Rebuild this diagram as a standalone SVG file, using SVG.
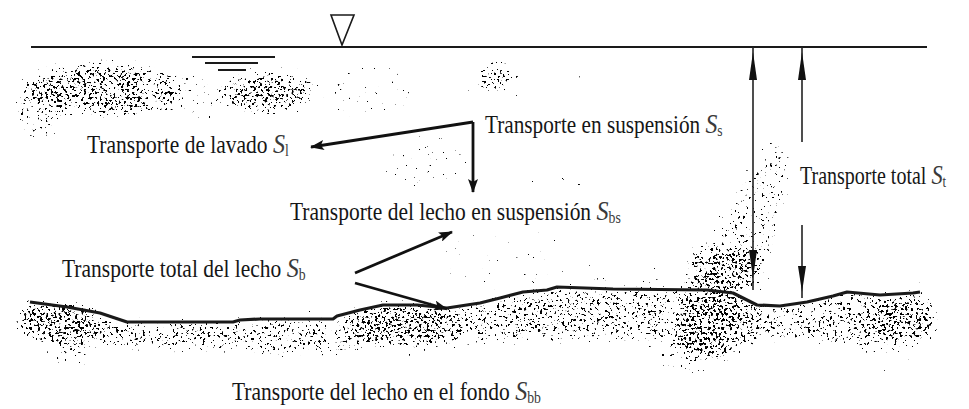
<svg xmlns="http://www.w3.org/2000/svg" width="969" height="409" viewBox="0 0 969 409">
  <style>
    .lbl { font-family: "Liberation Serif", "Times New Roman", serif; font-size: 25px; fill: #161616; }
    .sym { font-style: italic; font-size: 28px; fill: #3a3a3a; }
    .sub { font-style: normal; font-size: 16px; fill: #3a3a3a; }
    .ln { stroke: #1a1a1a; fill: none; }
    .arrow { stroke: #111; stroke-width: 2.8; fill: none; marker-end: url(#head); }
    .dim { stroke: #222; stroke-width: 1.6; fill: none; }
    .dimhead { fill: #111; }
  </style>
  <defs>
    <marker id="head" viewBox="0 0 14 10" refX="13" refY="5" markerWidth="14" markerHeight="10" markerUnits="userSpaceOnUse" orient="auto">
      <path d="M0,0 L14,5 L0,10 L3,5 z" fill="#111"/>
    </marker>
    <!-- speckle generator: fine noise thresholded by the blurred, clumped density of the source shapes -->
    <filter id="stipple" filterUnits="userSpaceOnUse" x="0" y="0" width="969" height="409" color-interpolation-filters="sRGB">
      <feTurbulence type="fractalNoise" baseFrequency="0.37" numOctaves="2" seed="7" result="noise"/>
      <feColorMatrix in="noise" type="matrix" values="0 0 0 0 0  0 0 0 0 0  0 0 0 0 0  1 0 0 0 0" result="na"/>
      <feTurbulence type="fractalNoise" baseFrequency="0.05" numOctaves="2" seed="3" result="low"/>
      <feColorMatrix in="low" type="matrix" values="0 0 0 0 0  0 0 0 0 0  0 0 0 0 0  1.6 0 0 0 0.3" result="la"/>
      <feGaussianBlur in="SourceAlpha" stdDeviation="6" result="dens"/>
      <feComponentTransfer in="dens" result="densg">
        <feFuncA type="gamma" amplitude="1" exponent="0.6" offset="0"/>
      </feComponentTransfer>
      <feComposite in="densg" in2="la" operator="arithmetic" k1="1" k2="0" k3="0" k4="0" result="mod"/>
      <feComposite in="na" in2="mod" operator="arithmetic" k1="0" k2="25" k3="9" k4="-22.5"/>
    </filter>
  </defs>

  <rect width="969" height="409" fill="#fff"/>

  <!-- sediment grains -->
  <g id="sediment" filter="url(#stipple)" fill="#000">
    <!-- wash load near the surface -->
    <ellipse cx="105" cy="90" rx="80" ry="26" fill-opacity=".9"/>
    <ellipse cx="40" cy="108" rx="24" ry="32" fill-opacity=".5"/>
    <ellipse cx="190" cy="95" rx="35" ry="22" fill-opacity=".3"/>
    <ellipse cx="265" cy="92" rx="45" ry="21" fill-opacity=".9"/>
    <ellipse cx="355" cy="92" rx="60" ry="28" fill-opacity=".23"/>
    <ellipse cx="497" cy="77" rx="20" ry="16" fill-opacity=".7"/>
    <ellipse cx="565" cy="80" rx="40" ry="9" fill-opacity=".2"/>
    <!-- suspended load -->
    <ellipse cx="425" cy="160" rx="45" ry="32" fill-opacity=".23"/>
    <ellipse cx="545" cy="183" rx="60" ry="4" fill-opacity=".4"/>
    <ellipse cx="500" cy="255" rx="70" ry="35" fill-opacity=".18"/>
    <ellipse cx="620" cy="278" rx="50" ry="12" fill-opacity=".22"/>
    <!-- plume rising beside the dimension line -->
    <path d="M684,292 L692,258 L724,222 L746,178 L772,138 L790,142 L786,200 L770,255 L762,295 z" fill-opacity=".5"/>
    <ellipse cx="722" cy="268" rx="36" ry="24" fill-opacity="1"/>
    <!-- bed layer -->
    <path d="M22,300 L67,307 L100,313 L127,322 L233,322 L260,319 L333,319 L360,310 L383,305 L447,308 L480,303 L523,292 L557,287 L707,290 L733,293 L757,305 L780,306 L807,302 L847,292 L880,295 L935,292 L935,338 L880,345 L780,340 L700,345 L600,338 L500,342 L450,345 L330,350 L250,350 L130,348 L60,345 L20,335 z" fill-opacity=".7"/>
    <ellipse cx="60" cy="322" rx="42" ry="20" fill-opacity="1"/>
    <ellipse cx="405" cy="325" rx="50" ry="22" fill-opacity="1"/>
    <ellipse cx="712" cy="325" rx="42" ry="32" fill-opacity="1"/>
    <ellipse cx="900" cy="322" rx="30" ry="20" fill-opacity="1"/>
    <ellipse cx="70" cy="355" rx="25" ry="15" fill-opacity=".35"/>
    <ellipse cx="690" cy="358" rx="35" ry="18" fill-opacity=".35"/>
    <ellipse cx="300" cy="355" rx="40" ry="10" fill-opacity=".25"/>
    <ellipse cx="890" cy="350" rx="40" ry="12" fill-opacity=".25"/>
  </g>

  <!-- free surface and water-level mark -->
  <g id="surface">
    <line class="ln" x1="31" y1="47" x2="927" y2="47" stroke-width="2.2"/>
    <polygon points="331,15 354,15 342,45" fill="#fff" stroke="#1a1a1a" stroke-width="1.6"/>
    <line class="ln" x1="192" y1="57" x2="275" y2="57" stroke-width="2"/>
    <line class="ln" x1="205" y1="63" x2="258" y2="63" stroke-width="2"/>
    <line class="ln" x1="218" y1="70" x2="246" y2="70" stroke-width="2"/>
  </g>

  <!-- channel bed -->
  <g id="bed">
    <path class="ln" stroke-width="3.2" stroke-linejoin="round" d="M30,302 L67,307 L100,313 L127,322 L233,322 L240,320 L260,319 L333,319 L337,316 L360,310 L383,305 L417,305 L447,308 L480,303 L500,298 L523,292 L547,290 L557,287 L613,289 L707,290 L733,293 L757,305 L780,306 L807,302 L833,296 L847,292 L880,295 L913,293 L920,292"/>
  </g>

  <!-- labels (narrow face: each line is squeezed horizontally) -->
  <g id="lavado">
    <text class="lbl" transform="translate(87,153) scale(0.86,1)">Transporte de lavado <tspan class="sym">S</tspan><tspan class="sub" dy="3">l</tspan></text>
  </g>
  <g id="suspension">
    <text class="lbl" transform="translate(485,133) scale(0.85,1)">Transporte en suspensión <tspan class="sym">S</tspan><tspan class="sub" dy="3">s</tspan></text>
  </g>
  <g id="lecho-suspension">
    <text class="lbl" transform="translate(290,220) scale(0.86,1)">Transporte del lecho en suspensión <tspan class="sym">S</tspan><tspan class="sub" dy="3">bs</tspan></text>
  </g>
  <g id="total-lecho">
    <text class="lbl" transform="translate(62,277) scale(0.86,1)">Transporte total del lecho <tspan class="sym">S</tspan><tspan class="sub" dy="3">b</tspan></text>
  </g>
  <g id="fondo">
    <text class="lbl" transform="translate(232,400) scale(0.86,1)">Transporte del lecho en el fondo <tspan class="sym">S</tspan><tspan class="sub" dy="3">bb</tspan></text>
  </g>
  <g id="total">
    <text class="lbl" transform="translate(800,184) scale(0.8,1)">Transporte total <tspan class="sym">S</tspan><tspan class="sub" dy="3">t</tspan></text>
  </g>

  <!-- connectors -->
  <g id="connectors">
    <line class="arrow" x1="473" y1="122" x2="311" y2="147"/>
    <line class="arrow" x1="473" y1="122" x2="473" y2="192"/>
    <line class="arrow" x1="355" y1="273" x2="452" y2="232"/>
    <line class="arrow" x1="355" y1="283" x2="447" y2="309"/>
    <!-- suspended-load depth -->
    <line class="dim" x1="753" y1="47" x2="753" y2="290"/>
    <path class="dimhead" d="M753,52 L757,80 L749,80 z"/>
    <path class="dimhead" d="M749,250 L757,250 L753,278 z"/>
    <!-- total depth -->
    <line class="dim" x1="802" y1="47" x2="802" y2="142"/>
    <line class="dim" x1="802" y1="225" x2="802" y2="298"/>
    <path class="dimhead" d="M802,52 L806,80 L798,80 z"/>
    <path class="dimhead" d="M798,266 L806,266 L802,292 z"/>
  </g>
</svg>
